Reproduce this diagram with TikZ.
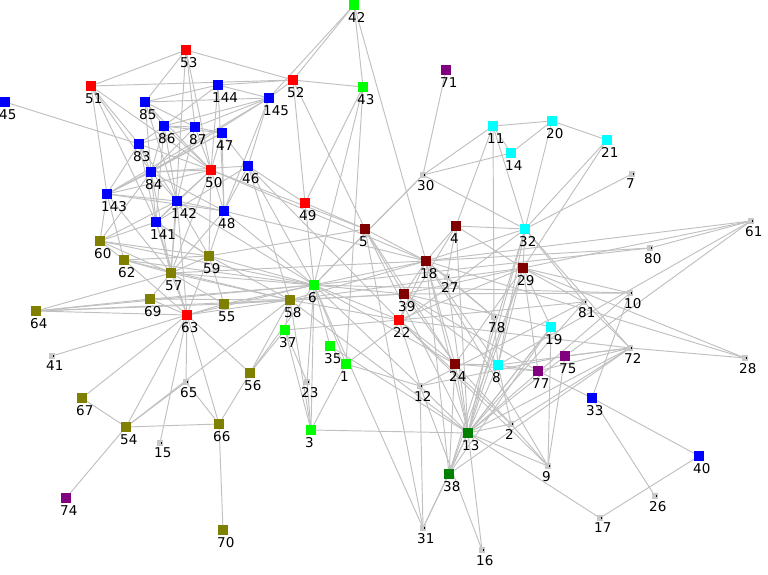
\documentclass[tikz,border=0pt]{standalone}
\usepackage{fontspec}
\setmainfont{DejaVu Sans}
\pgfdeclarelayer{bg}\pgfsetlayers{bg,main}
\definecolor{dred}{RGB}{128,0,0}
\definecolor{olv}{RGB}{128,128,0}
\definecolor{prp}{RGB}{128,0,128}
\definecolor{dgr}{RGB}{0,128,0}
\definecolor{cyn}{RGB}{0,255,255}
\definecolor{grn}{RGB}{0,255,0}
\definecolor{rd}{RGB}{255,0,0}
\definecolor{bl}{RGB}{0,0,255}
\definecolor{edg}{RGB}{192,192,192}
\definecolor{gnode}{RGB}{200,200,200}
\begin{document}
\begin{tikzpicture}[x=1pt,y=-1pt,
 cn/.style={draw=none,fill=#1,minimum size=10pt,inner sep=0pt},
 gn/.style={draw=none,fill=gnode,minimum size=5.5pt,inner sep=0pt},
 lab/.style={font=\fontsize{13.5}{15}\selectfont,inner sep=0pt,anchor=north west,xshift=-6pt,yshift=-2pt},
 ed/.style={draw=edg,line width=0.95pt}]
\useasboundingbox (0,0) rectangle (768,575);
\foreach \n/\x/\y/\c in {
42/354/5/grn,53/186/50/rd,51/91/86/rd,52/293/80/rd,43/363/87/grn,45/5/102/bl,
144/218/85/bl,145/269/98/bl,85/145/102/bl,86/164/126/bl,87/195/127/bl,47/222/133/bl,
83/139/144/bl,84/151/172/bl,50/211/170/rd,46/248/166/bl,143/107/194/bl,142/177/201/bl,
48/224/211/bl,141/156/222/bl,49/305/203/rd,5/365/229/dred,60/100/241/olv,62/124/260/olv,
57/171/273/olv,59/209/256/olv,6/314/285/grn,71/446/70/prp,11/493/126/cyn,20/552/121/cyn,
21/607/140/cyn,14/511/153/cyn,4/456/226/dred,32/525/229/cyn,18/426/261/dred,29/523/268/dred,
64/36/311/olv,69/150/299/olv,63/187/315/rd,55/224/304/olv,58/290/300/olv,37/285/330/grn,
35/330/346/grn,1/346/364/grn,56/250/373/olv,67/82/398/olv,54/126/427/olv,66/219/424/olv,
3/311/430/grn,74/66/498/prp,70/223/530/olv,39/404/294/dred,22/399/320/rd,19/551/327/cyn,
75/565/356/prp,24/455/364/dred,8/498/365/cyn,77/538/371/prp,33/592/398/bl,13/468/433/dgr,
40/699/456/bl,38/449/474/dgr}
 \node[cn=\c,label={[lab]south:\n}] (n\n) at (\x,\y) {};
\foreach \n/\x/\y in {30/423/175,7/632/174,61/751/221,80/650/248,27/447/277,41/52/356,
65/186/382,23/307/382,15/160/443,10/630/293,81/584/302,78/494/317,72/630/348,28/745/358,
12/420/386,2/511/424,9/548/466,26/655/496,17/600/518,31/423/528,16/482/550}
 {\node[gn,label={[lab]south:\n}] (n\n) at (\x,\y) {};
  \fill (\x+0.5,\y-1.5) rectangle (\x+1.5,\y+0.5);}
\begin{pgfonlayer}{bg}
\foreach \a/\b in {53/51,53/52,53/50,53/85,53/57,51/52,51/83,51/143,51/50,51/84,45/83,52/42,52/43,52/49,
52/145,52/144,52/5,42/43,42/145,42/18,43/6,43/49,43/1,144/85,144/145,144/48,144/50,145/46,145/85,145/87,
145/143,145/86,145/84,86/50,87/50,47/50,83/50,84/50,84/142,143/142,143/48,143/60,143/50,142/141,142/57,
141/57,141/63,46/49,46/48,46/6,46/84,46/22,48/57,48/84,48/6,50/5,50/18,50/142,50/48,50/57,49/5,49/6,5/18,
5/31,5/39,85/86,85/142,86/83,86/87,86/47,86/141,87/84,87/47,47/143,47/46,83/84,83/142,84/60,84/141,
60/62,60/57,60/59,62/57,57/59,59/6,57/6,59/58,59/141,59/142,62/59,62/58,57/58,64/63,64/69,64/57,64/6,
64/58,64/55,69/63,63/55,63/58,63/67,63/54,63/15,63/65,63/66,63/56,63/41,63/6,63/59,63/57,63/62,63/142,
69/57,69/6,55/58,55/6,55/39,54/67,54/66,54/74,54/58,54/65,65/66,66/70,66/56,56/58,56/37,56/6,37/58,
37/23,37/3,37/22,6/3,6/23,6/35,6/1,6/22,6/18,6/39,6/30,6/12,6/10,6/24,58/22,58/18,58/39,58/13,58/29,
23/3,3/13,3/1,3/58,35/1,35/13,1/12,1/32,71/30,30/11,30/14,30/32,30/6,11/20,11/14,11/32,11/4,11/78,
20/21,20/14,20/32,21/32,21/29,7/32,32/4,32/18,32/29,32/8,32/13,32/81,32/72,32/38,4/18,4/27,4/29,4/13,
4/22,61/80,61/18,61/29,61/75,61/8,80/18,80/6,18/27,18/39,18/22,18/24,18/13,18/78,18/8,18/38,29/13,29/38,
29/81,29/10,29/28,29/19,29/77,29/39,29/22,10/33,10/13,10/39,81/72,81/12,81/22,81/13,72/28,72/75,72/77,
72/38,72/8,72/13,75/13,77/8,77/24,77/33,75/9,24/8,24/13,24/38,24/39,24/22,8/2,8/13,12/13,12/31,12/75,
13/2,13/9,13/17,13/38,13/16,13/31,13/19,2/9,2/72,2/24,33/40,33/26,40/17,38/31,38/19,12/16,9/19,9/18,
22/12,22/2,22/9,39/8,39/77,39/19,27/78,27/13,78/13,78/8,19/13,29/24,29/8,31/6,28/18,72/22,5/24,5/13,
85/50,85/84,85/87,86/84,86/142,87/83,87/142,47/84,47/48,83/143,83/141,84/143,84/57,142/48,142/60,
141/60,141/59,143/57,143/62,48/59,50/59,50/141,46/58,46/141,145/48,144/86,53/87,51/141,57/55,59/55,
60/6,62/6,69/58,57/18,59/5,142/6,48/18}
 \draw[ed] (n\a) -- (n\b);
\end{pgfonlayer}
\end{tikzpicture}
\end{document}
